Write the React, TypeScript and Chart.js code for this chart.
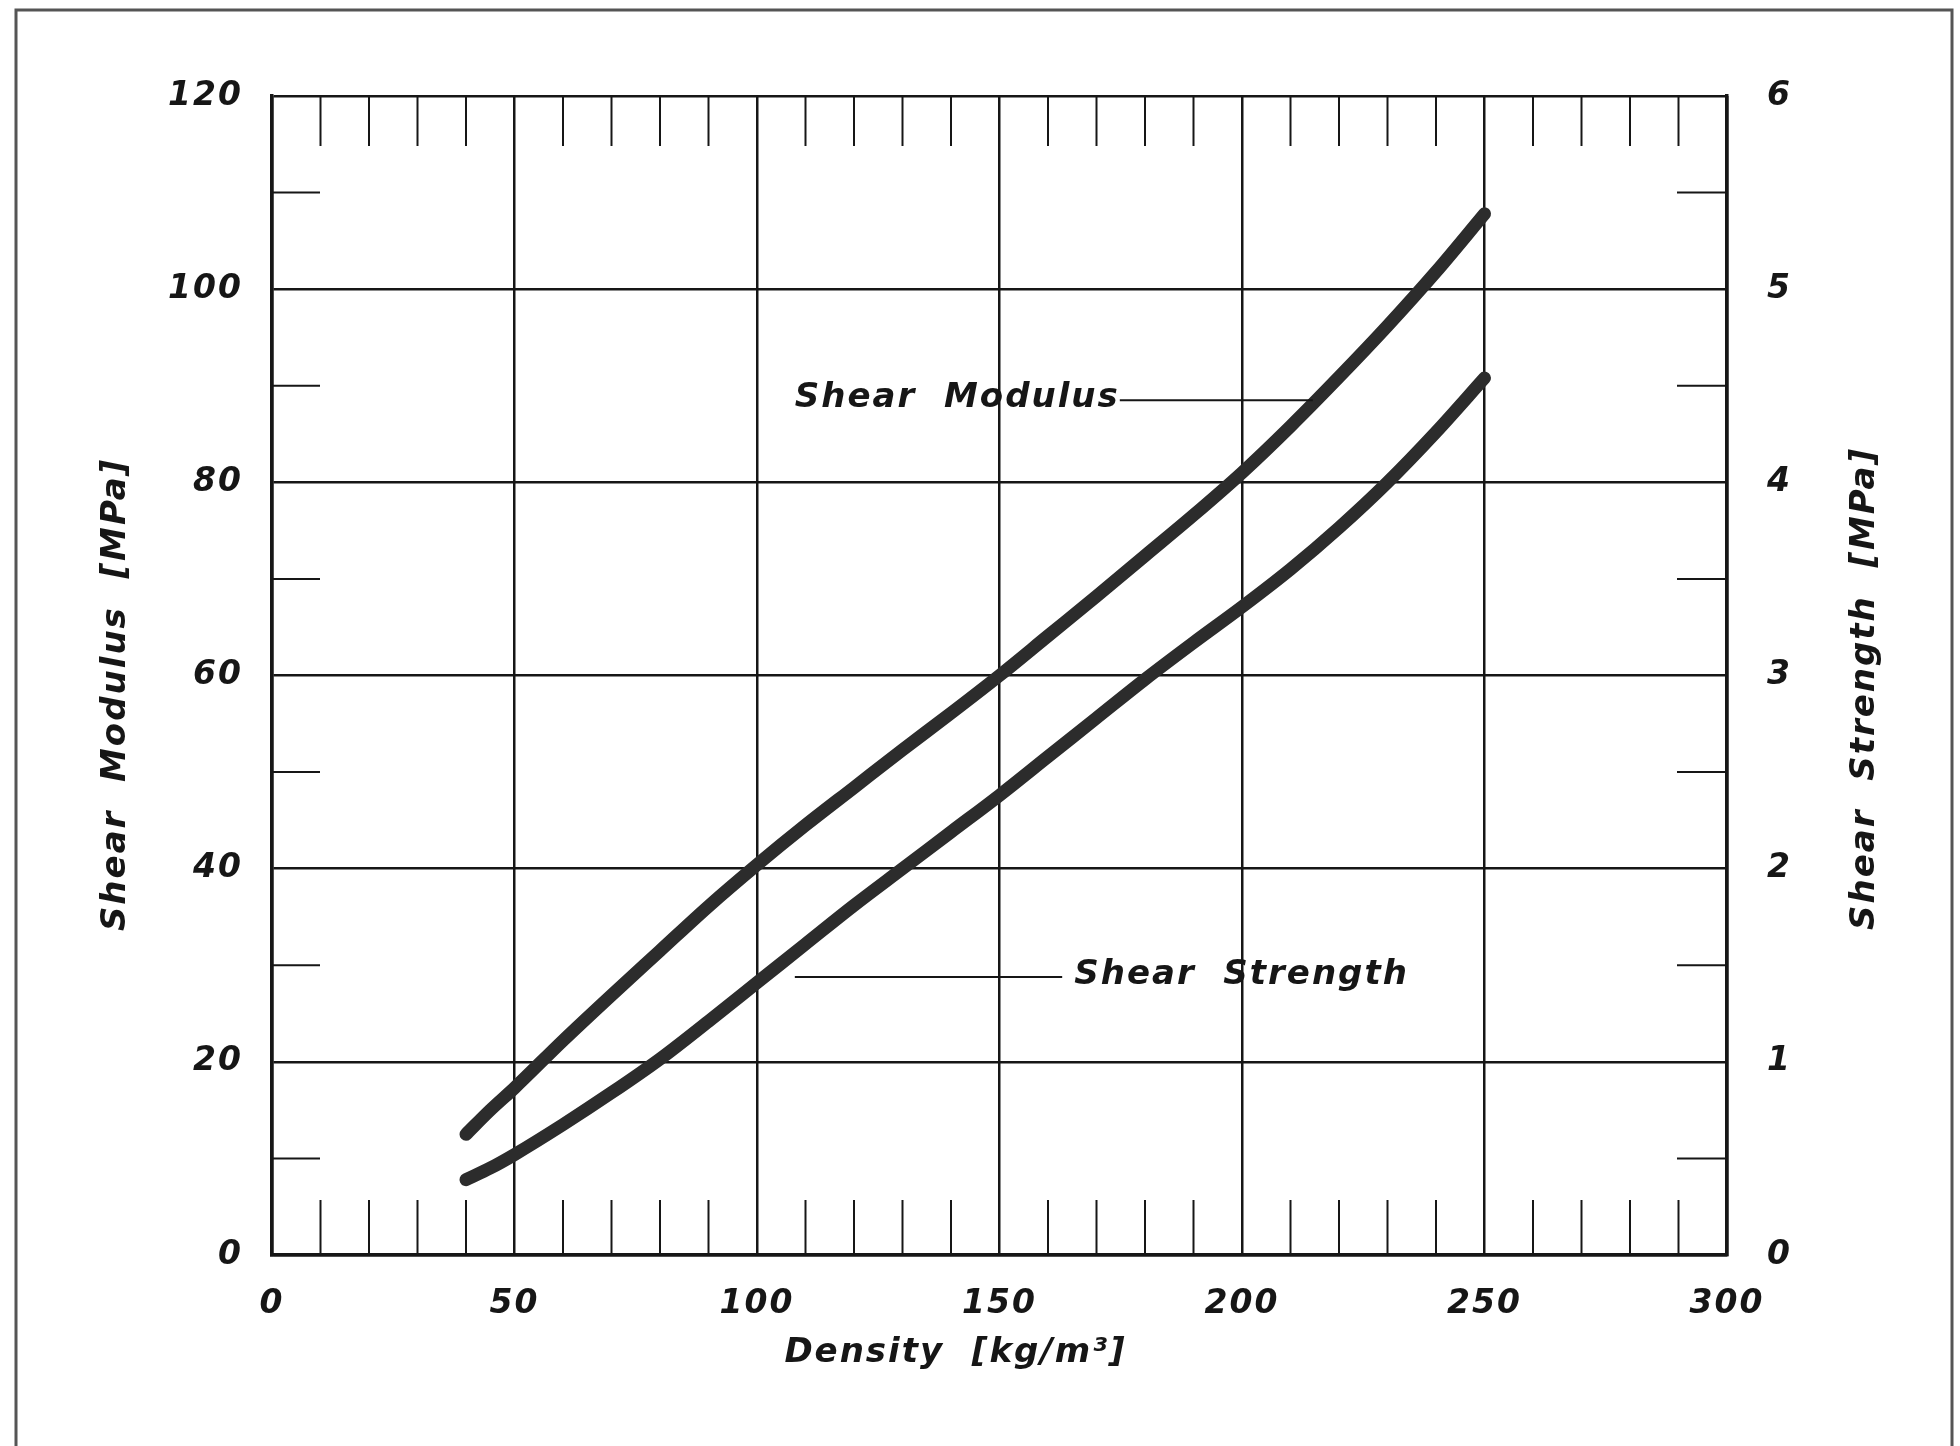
import React, { useEffect, useRef } from 'react';
import { Chart, registerables } from 'chart.js';

Chart.register(...registerables);

// ---- data ----
const density = [40, 45, 50, 60, 70, 80, 90, 100, 110, 120, 130, 140, 150, 160, 170, 180, 190, 200, 210, 220, 230, 240, 250];
const shearModulus = [12.5, 15.0, 17.3, 22.2, 26.9, 31.5, 36.1, 40.4, 44.5, 48.4, 52.3, 56.1, 60.0, 64.1, 68.2, 72.4, 76.6, 81.0, 85.8, 90.9, 96.2, 101.8, 107.8];
const shearStrength = [0.39, 0.45, 0.52, 0.675, 0.84, 1.015, 1.21, 1.41, 1.61, 1.81, 2.0, 2.19, 2.38, 2.58, 2.78, 2.98, 3.17, 3.355, 3.55, 3.765, 4.0, 4.26, 4.54];
const minorX = [10, 20, 30, 40, 60, 70, 80, 90, 110, 120, 130, 140, 160, 170, 180, 190, 210, 220, 230, 240, 260, 270, 280, 290];
const minorY = [10, 30, 50, 70, 90, 110];

const modulusLabel = 'Shear  Modulus';
const strengthLabel = 'Shear  Strength';
const xTitle = 'Density  [kg/m³]';
const yTitle = 'Shear  Modulus  [MPa]';
const y2Title = 'Shear  Strength  [MPa]';

const FONT = '"DejaVu Sans", sans-serif';
const INK = '#161616';

const decorPlugin = {
  id: 'decor',
  beforeDraw(chart: any) {
    (chart.ctx as any).letterSpacing = '2px';
  },
  beforeDatasetsDraw(chart: any) {
    const { ctx, chartArea: a, scales } = chart;
    const sx = scales.x;
    const sy = scales.y;
    ctx.save();
    ctx.strokeStyle = '#555';
    ctx.lineWidth = 3;
    ctx.strokeRect(16, 10, 1936, 1500);
    ctx.strokeStyle = INK;
    ctx.lineWidth = 2;
    const line = (x1: number, y1: number, x2: number, y2: number) => {
      ctx.beginPath();
      ctx.moveTo(x1, y1);
      ctx.lineTo(x2, y2);
      ctx.stroke();
    };
    for (const v of minorX) {
      const px = sx.getPixelForValue(v);
      line(px, a.bottom, px, a.bottom - 55);
      line(px, a.top, px, a.top + 50);
    }
    for (const v of minorY) {
      const py = sy.getPixelForValue(v);
      line(a.left, py, a.left + 48, py);
      line(a.right, py, a.right - 50, py);
    }
    ctx.restore();
  },
  afterDraw(chart: any) {
    const { ctx, chartArea: a, scales } = chart;
    const sx = scales.x;
    const sy = scales.y;
    ctx.save();
    ctx.font = `italic bold 34px ${FONT}`;
    ctx.fillStyle = INK;
    ctx.strokeStyle = INK;
    ctx.lineWidth = 2;
    ctx.textBaseline = 'middle';
    ctx.textAlign = 'left';

    // Shear Modulus label + leader
    const mx = sx.getPixelForValue(107.8);
    const my = sy.getPixelForValue(88.7);
    ctx.fillText(modulusLabel, mx, my);
    const mw = ctx.measureText(modulusLabel).width;
    ctx.beginPath();
    ctx.moveTo(mx + mw, my + 2);
    ctx.lineTo(sx.getPixelForValue(214.6), my + 2);
    ctx.stroke();

    // Shear Strength label + leader
    const tx = sx.getPixelForValue(165.4);
    const ty = sy.getPixelForValue(29.0);
    ctx.fillText(strengthLabel, tx, ty);
    ctx.beginPath();
    ctx.moveTo(sx.getPixelForValue(107.8), ty + 2);
    ctx.lineTo(tx - 12, ty + 2);
    ctx.stroke();

    const cy = (a.top + a.bottom) / 2;
    ctx.textAlign = 'center';

    // x axis title
    ctx.fillText(xTitle, (a.left + a.right) / 2 - 44, a.bottom + 98);

    // left axis title
    ctx.save();
    ctx.translate(a.left - 156, cy + 19);
    ctx.rotate(-Math.PI / 2);
    ctx.fillText(yTitle, 0, 0);
    ctx.restore();

    // right axis title, reading bottom-to-top
    ctx.save();
    ctx.translate(a.right + 138, cy + 13);
    ctx.rotate(-Math.PI / 2);
    ctx.fillText(y2Title, 0, 0);
    ctx.restore();

    ctx.restore();
  },
};

export default function App() {
  const ref = useRef<HTMLCanvasElement | null>(null);

  useEffect(() => {
    if (!ref.current) return;
    const tickFont = { family: FONT, size: 33, style: 'italic' as const, weight: 'bold' as const };
    const chart = new Chart(ref.current, {
      type: 'line',
      data: {
        datasets: [
          {
            label: 'Shear Modulus',
            data: density.map((x, i) => ({ x, y: shearModulus[i] })),
            yAxisID: 'y',
            borderColor: '#2c2c2c',
            borderWidth: 13,
            pointRadius: 0,
            cubicInterpolationMode: 'monotone',
            borderCapStyle: 'round',
            borderJoinStyle: 'round',
          },
          {
            label: 'Shear Strength',
            data: density.map((x, i) => ({ x, y: shearStrength[i] })),
            yAxisID: 'y2',
            borderColor: '#2c2c2c',
            borderWidth: 13,
            pointRadius: 0,
            cubicInterpolationMode: 'monotone',
            borderCapStyle: 'round',
            borderJoinStyle: 'round',
          },
        ],
      },
      options: {
        responsive: false,
        animation: false,
        layout: { padding: { top: 96, left: 0, right: 0, bottom: 0 } },
        plugins: { legend: { display: false }, tooltip: { enabled: false } },
        scales: {
          x: {
            type: 'linear',
            min: 0,
            max: 300,
            ticks: { stepSize: 50, font: tickFont, color: INK, padding: 30, maxRotation: 0 },
            grid: { color: INK, lineWidth: 2.5, drawTicks: false },
            border: { color: INK, width: 3.5 },
            afterFit: (s: any) => { s.height = 191; },
          },
          y: {
            type: 'linear',
            position: 'left',
            min: 0,
            max: 120,
            ticks: { stepSize: 20, font: tickFont, color: INK, padding: 29 },
            grid: { color: INK, lineWidth: 2.5, drawTicks: false },
            border: { color: INK, width: 3.5 },
            afterFit: (s: any) => { s.width = 272; },
          },
          y2: {
            type: 'linear',
            position: 'right',
            min: 0,
            max: 6,
            ticks: { stepSize: 1, font: tickFont, color: INK, padding: 40 },
            grid: { display: false, drawTicks: false },
            border: { color: INK, width: 3.5 },
            afterFit: (s: any) => { s.width = 233; },
          },
        },
      },
      plugins: [decorPlugin],
    });
    return () => chart.destroy();
  }, []);

  return (
    <div style={{ position: 'absolute', left: 0, top: 0, width: 1960, height: 1446, background: '#fff' }}>
      <canvas ref={ref} width={1960} height={1446} />
    </div>
  );
}
